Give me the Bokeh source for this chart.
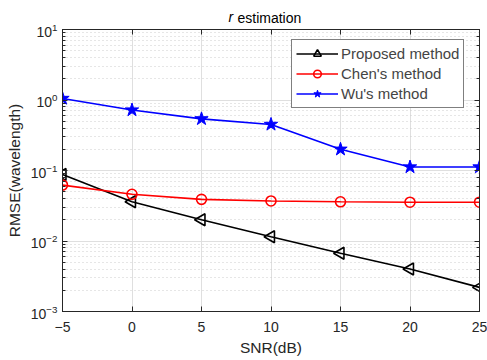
import math
from bokeh.plotting import figure
from bokeh.models import (Range1d, LinearAxis, LogAxis, Legend, LegendItem, Label,
                          FixedTicker, CustomJSTickFormatter)
from bokeh.embed import file_html
from bokeh.resources import INLINE

snr = [-5, 0, 5, 10, 15, 20, 25]
proposed = [0.088, 0.036, 0.020, 0.0115, 0.0067, 0.0040, 0.0022]
chen = [0.062, 0.046, 0.039, 0.037, 0.036, 0.0355, 0.0355]
wu = [1.05, 0.72, 0.54, 0.45, 0.20, 0.112, 0.112]
x_ticks = [-5, 0, 5, 10, 15, 20, 25]

FONT = "Liberation Sans"
AX = "#262626"
W, H = 487, 360
BL, BR, BT, BB = 62, 8, 29, 49
X0, X1, Y0, Y1 = -5, 25, 1e-3, 10

p = figure(width=W, height=H, output_backend="svg", toolbar_location=None,
           y_axis_type="log", x_range=Range1d(X0, X1), y_range=Range1d(Y0, Y1),
           min_border_left=BL, min_border_right=BR, min_border_top=BT, min_border_bottom=BB)
p.title = None
p.outline_line_color = AX
p.outline_line_width = 1

for ax in p.xaxis + p.yaxis:
    ax.major_tick_in = 5
    ax.major_tick_out = 0
    ax.minor_tick_out = 0
    ax.axis_line_color = AX
    ax.major_tick_line_color = AX
    ax.minor_tick_line_color = AX
    ax.major_label_text_font = FONT
    ax.major_label_text_font_size = "14px"
    ax.major_label_text_color = AX
    ax.axis_label_text_font = FONT
    ax.axis_label_text_font_size = "15.5px"
    ax.axis_label_text_font_style = "normal"
    ax.axis_label_text_color = AX

p.xaxis.ticker = FixedTicker(ticks=x_ticks)
p.xaxis.minor_tick_line_color = None
p.xaxis.axis_label = "SNR(dB)"
p.xaxis.major_label_standoff = 10
p.xaxis.axis_label_standoff = 4
p.yaxis.minor_tick_in = 3
p.yaxis.axis_label = "RMSE(wavelength)"
p.yaxis.major_label_standoff = 5
p.yaxis.axis_label_standoff = 5

top = LinearAxis(ticker=FixedTicker(ticks=x_ticks), formatter=CustomJSTickFormatter(code="return ''"),
                 major_tick_in=5, major_tick_out=0, minor_tick_line_color=None,
                 axis_line_color=AX, major_tick_line_color=AX, major_label_standoff=0)
p.add_layout(top, "above")
right = LogAxis(formatter=CustomJSTickFormatter(code="return ''"),
                major_tick_in=5, major_tick_out=0,
                minor_tick_in=3, minor_tick_out=0, axis_line_color=AX,
                major_tick_line_color=AX, minor_tick_line_color=AX, major_label_standoff=0)
p.add_layout(right, "right")

p.xgrid.grid_line_color = "#dfdfdf"
p.ygrid.grid_line_color = "#dfdfdf"
p.ygrid.minor_grid_line_color = "#cccccc"
p.ygrid.minor_grid_line_dash = "1 3"

lw = 1.6
l1 = p.line(snr, proposed, line_color="black", line_width=lw)
m1 = p.scatter(snr, proposed, marker="triangle", size=12, angle=math.pi / 2,
               line_color="black", fill_color=None, line_width=lw)
l2 = p.line(snr, chen, line_color="#ff0000", line_width=lw)
m2 = p.scatter(snr, chen, marker="circle", size=10, line_color="#ff0000",
               fill_color=None, line_width=lw)
l3 = p.line(snr, wu, line_color="#0000ff", line_width=lw)
m3 = p.scatter(snr, wu, marker="star", size=14, line_color="#0000ff",
               fill_color="#0000ff", line_width=1)

# legend layout (screen px, relative to the frame's bottom-left)
LEG_X, LEG_Y = 229, 203
PAD, ROW, SP, GW = 4, 19, 1, 42
legend = Legend(items=[LegendItem(label="Proposed method", renderers=[l1, m1]),
                       LegendItem(label="Chen's method", renderers=[l2, m2]),
                       LegendItem(label="Wu's method", renderers=[l3, m3])],
                location=(LEG_X, LEG_Y), padding=PAD, spacing=SP, margin=0,
                label_text_font=FONT, label_text_font_size="15px",
                label_height=ROW, glyph_height=ROW, glyph_width=GW, label_standoff=3,
                border_line_color="black", border_line_width=1,
                background_fill_color="white", background_fill_alpha=1)
p.add_layout(legend, "center")

# title: "estimation" above the frame, italic "r" hung from the narrow right panel
p.add_layout(Label(x=175, y=12, x_units="screen", y_units="screen", text="estimation",
                   text_font=FONT, text_font_size="14px",
                   text_baseline="middle", text_align="left", text_color="black"), "above")
p.add_layout(Label(x=-251, y=295, x_units="screen", y_units="screen", text="r",
                   text_font=FONT, text_font_size="14px", text_font_style="italic",
                   text_baseline="middle", text_align="left", text_color="black"), "right")

open("out.html", "w").write(file_html(p, INLINE))
